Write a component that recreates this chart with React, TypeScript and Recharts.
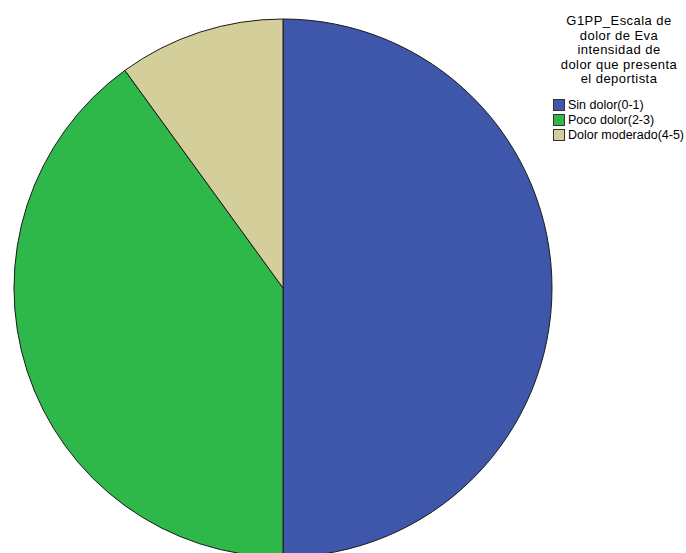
import React from "react";
import { PieChart, Pie, Cell, Legend } from "recharts";

const categories = ["Sin dolor(0-1)", "Poco dolor(2-3)", "Dolor moderado(4-5)"];
const values = [50, 40, 10];
const colors = ["#3E57AB", "#2EB84A", "#D4CE9A"];
const titleLines = ["G1PP_Escala de", "dolor de Eva", "intensidad de", "dolor que presenta", "el deportista"];

const data = categories.map((name, i) => ({ name, value: values[i] }));

const LegendContent = () => (
  <div style={{ fontFamily: "'Liberation Sans', Arial, sans-serif", color: "#000" }}>
    <div style={{ textAlign: "center", fontSize: 13, lineHeight: "14.6px", letterSpacing: "0.45px", width: 132, whiteSpace: "nowrap" }}>
      {titleLines.map((t) => (
        <div key={t}>{t}</div>
      ))}
    </div>
    <div style={{ marginTop: 11 }}>
      {categories.map((c, i) => (
        <div key={c} style={{ display: "flex", alignItems: "center", height: 15, lineHeight: "15px", fontSize: 12.5, whiteSpace: "nowrap" }}>
          <span
            style={{
              display: "inline-block",
              width: 12,
              height: 12,
              background: colors[i],
              border: "1px solid #333",
              boxSizing: "border-box",
              marginRight: 3,
              flexShrink: 0,
            }}
          />
          <span>{c}</span>
        </div>
      ))}
    </div>
  </div>
);

export default function App() {
  return (
    <div style={{ position: "absolute", left: 0, top: 0, width: 686, height: 553, background: "#fff", overflow: "hidden" }}>
      <PieChart width={686} height={553} margin={{ top: 0, right: 0, bottom: 0, left: 0 }}>
        <Pie
          data={data}
          dataKey="value"
          nameKey="name"
          cx={283}
          cy={288}
          outerRadius={269}
          startAngle={90}
          endAngle={-270}
          stroke="#1a1a1a"
          strokeWidth={1}
          isAnimationActive={false}
        >
          {data.map((d, i) => (
            <Cell key={d.name} fill={colors[i]} />
          ))}
        </Pie>
        <Legend
          content={<LegendContent />}
          wrapperStyle={{ position: "absolute", left: 553, top: 14, width: 140 }}
        />
      </PieChart>
    </div>
  );
}
